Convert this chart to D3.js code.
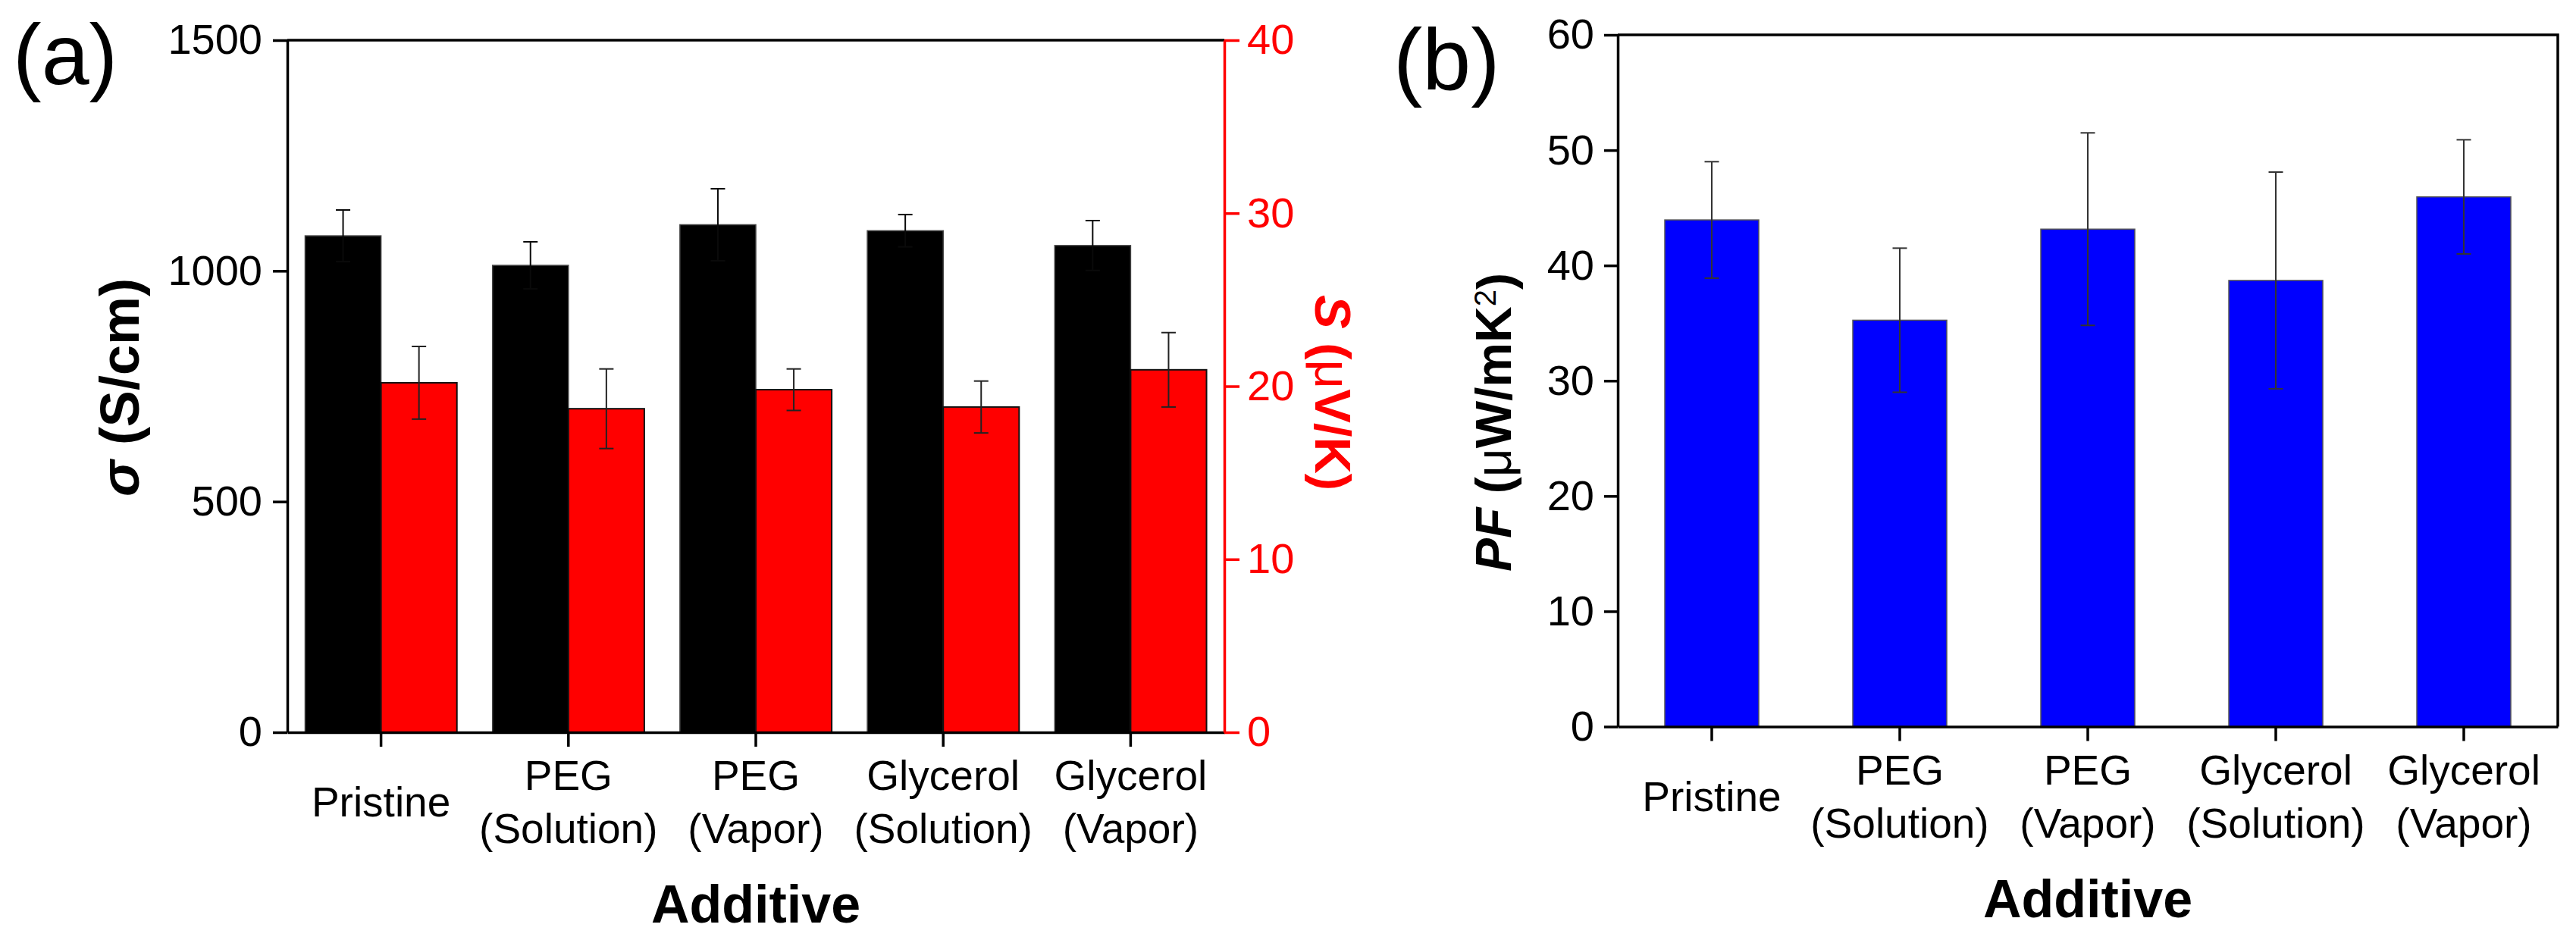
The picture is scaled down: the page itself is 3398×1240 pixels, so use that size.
<!DOCTYPE html>
<html>
<head>
<meta charset="utf-8">
<script src="https://cdn.jsdelivr.net/npm/d3@7"></script>
<style>
  body { margin: 0; background: #fff; }
  text { font-family: "Liberation Sans", Arial, sans-serif; }
</style>
</head>
<body>
<div id="target"></div>
<script>
// values
const categories = ["Pristine", "PEG (Solution)", "PEG (Vapor)", "Glycerol (Solution)", "Glycerol (Vapor)"];
const categoryLines = [["Pristine"], ["PEG", "(Solution)"], ["PEG", "(Vapor)"], ["Glycerol", "(Solution)"], ["Glycerol", "(Vapor)"]];
const sigma = [1076, 1012, 1100, 1087, 1055];
const sigmaErr = [56, 51, 78, 35, 54];
const seebeck = [20.2, 18.7, 19.8, 18.8, 20.95];
const seebeckErr = [2.1, 2.3, 1.2, 1.5, 2.15];
const pf = [43.95, 35.25, 43.15, 38.7, 45.95];
const pfErr = [5.05, 6.25, 8.35, 9.4, 4.95];
const sigmaTicks = [0, 500, 1000, 1500];
const seebeckTicks = [0, 10, 20, 30, 40];
const pfTicks = [0, 10, 20, 30, 40, 50, 60];

const width = 3398,
  height = 1240,
  tickFont = 56,
  axisWidth = 3.5;

let svg = d3.select("#target").append("svg")
  .attr("width", width)
  .attr("height", height);

function styleAxis(g, color) {
  g.attr("font-family", null).attr("font-size", null);
  g.select(".domain").attr("stroke", color).attr("stroke-width", axisWidth);
  g.selectAll(".tick line").attr("stroke", color).attr("stroke-width", axisWidth);
  g.selectAll(".tick text").attr("fill", color).style("font-size", tickFont + "px");
}

function categoryLabels(x, base) {
  categoryLines.forEach((lines, i) => {
    const cx = x(categories[i]) + x.bandwidth() / 2;
    const t = svg.append("text")
      .attr("text-anchor", "middle")
      .style("font-size", "55px");
    lines.forEach((line, j) => {
      t.append("tspan")
        .attr("x", cx)
        .attr("y", lines.length === 1 ? base + 111 : base + 76 + j * 70)
        .text(line);
    });
  });
}

function errorBars(data, err, xPos, y, color) {
  const g = svg.append("g")
    .attr("stroke", color)
    .attr("stroke-width", 2);
  data.forEach((v, i) => {
    const cx = xPos(i);
    g.append("line").attr("x1", cx).attr("x2", cx).attr("y1", y(v + err[i])).attr("y2", y(v - err[i]));
    g.append("line").attr("x1", cx - 9.5).attr("x2", cx + 9.5).attr("y1", y(v + err[i])).attr("y2", y(v + err[i]));
    g.append("line").attr("x1", cx - 9.5).attr("x2", cx + 9.5).attr("y1", y(v - err[i])).attr("y2", y(v - err[i]));
  });
}

function panelA() {
  const left = 379, right = 1615, top = 53, bottom = 966;
  let x = d3.scaleBand()
    .domain(categories)
    .range([left, right])
    .paddingInner(0.19)
    .paddingOuter(0.095);
  let sub = d3.scaleBand()
    .domain(["sigma", "S"])
    .range([0, x.bandwidth()]);
  let y = d3.scaleLinear().domain([0, 1500]).range([bottom, top]);
  let y2 = d3.scaleLinear().domain([0, 40]).range([bottom, top]);

  svg.append("g").selectAll("rect")
    .data(sigma)
    .enter().append("rect")
    .attr("x", (d, i) => x(categories[i]) + sub("sigma"))
    .attr("width", sub.bandwidth())
    .attr("y", (d) => y(d))
    .attr("height", (d) => bottom - y(d))
    .attr("fill", "#000")
    .attr("stroke", "#444")
    .attr("stroke-width", 1.5);
  svg.append("g").selectAll("rect")
    .data(seebeck)
    .enter().append("rect")
    .attr("x", (d, i) => x(categories[i]) + sub("S"))
    .attr("width", sub.bandwidth())
    .attr("y", (d) => y2(d))
    .attr("height", (d) => bottom - y2(d))
    .attr("fill", "#ff0000")
    .attr("stroke", "#111")
    .attr("stroke-width", 2);

  errorBars(sigma, sigmaErr, (i) => x(categories[i]) + sub("sigma") + sub.bandwidth() / 2, y, "#0a0a0a");
  errorBars(seebeck, seebeckErr, (i) => x(categories[i]) + sub("S") + sub.bandwidth() / 2, y2, "#222");

  svg.append("line")
    .attr("x1", left).attr("x2", right)
    .attr("y1", top).attr("y2", top)
    .attr("stroke", "#000").attr("stroke-width", axisWidth);

  svg.append("g")
    .attr("transform", `translate(0,${bottom})`)
    .call(d3.axisBottom(x).tickSize(19).tickSizeOuter(0).tickFormat(""))
    .call((g) => styleAxis(g, "#000"));
  svg.append("g")
    .attr("transform", `translate(${left},0)`)
    .call(d3.axisLeft(y).tickValues(sigmaTicks).tickFormat(d3.format("d")).tickSize(19).tickSizeOuter(0).tickPadding(14))
    .call((g) => styleAxis(g, "#000"));
  svg.append("g")
    .attr("transform", `translate(${right},0)`)
    .call(d3.axisRight(y2).tickValues(seebeckTicks).tickFormat(d3.format("d")).tickSize(20).tickSizeOuter(0).tickPadding(10))
    .call((g) => styleAxis(g, "#ff0000"));

  categoryLabels(x, bottom);

  svg.append("text")
    .attr("x", (left + right) / 2)
    .attr("y", bottom + 251)
    .attr("text-anchor", "middle")
    .style("font-size", "70px")
    .style("font-weight", "bold")
    .text("Additive");

  let yt = svg.append("text")
    .attr("transform", "translate(183,511) rotate(-90)")
    .attr("text-anchor", "middle")
    .style("font-size", "72px")
    .style("font-weight", "bold");
  yt.append("tspan").style("font-style", "italic").text("σ");
  yt.append("tspan").text(" (S/cm)");

  let st = svg.append("text")
    .attr("transform", "translate(1735,518) rotate(90)")
    .attr("text-anchor", "middle")
    .attr("fill", "#ff0000")
    .style("font-size", "67px")
    .style("font-weight", "bold");
  st.append("tspan").style("font-style", "italic").text("S");
  st.append("tspan").text(" (");
  st.append("tspan").style("font-weight", "normal").text("μ");
  st.append("tspan").text("V/K)");

  svg.append("text")
    .attr("x", 17)
    .attr("y", 111)
    .style("font-size", "113px")
    .text("(a)");
}

function panelB() {
  const left = 2134, right = 3374, top = 46, bottom = 958.5;
  let x = d3.scaleBand()
    .domain(categories)
    .range([left, right])
    .paddingInner(0.5)
    .paddingOuter(0.25);
  let y = d3.scaleLinear().domain([0, 60]).range([bottom, top]);

  svg.append("g").selectAll("rect")
    .data(pf)
    .enter().append("rect")
    .attr("x", (d, i) => x(categories[i]))
    .attr("width", x.bandwidth())
    .attr("y", (d) => y(d))
    .attr("height", (d) => bottom - y(d))
    .attr("fill", "#0000ff")
    .attr("stroke", "#555")
    .attr("stroke-width", 1.5);

  errorBars(pf, pfErr, (i) => x(categories[i]) + x.bandwidth() / 2, y, "#333");

  svg.append("path")
    .attr("d", `M${left},${top}H${right}V${bottom}`)
    .attr("fill", "none")
    .attr("stroke", "#000")
    .attr("stroke-width", axisWidth);

  svg.append("g")
    .attr("transform", `translate(0,${bottom})`)
    .call(d3.axisBottom(x).tickSize(19).tickSizeOuter(0).tickFormat(""))
    .call((g) => styleAxis(g, "#000"));
  svg.append("g")
    .attr("transform", `translate(${left},0)`)
    .call(d3.axisLeft(y).tickValues(pfTicks).tickFormat(d3.format("d")).tickSize(18).tickSizeOuter(0).tickPadding(13))
    .call((g) => styleAxis(g, "#000"));

  categoryLabels(x, bottom);

  svg.append("text")
    .attr("x", (left + right) / 2)
    .attr("y", bottom + 251)
    .attr("text-anchor", "middle")
    .style("font-size", "70px")
    .style("font-weight", "bold")
    .text("Additive");

  let yt = svg.append("text")
    .attr("transform", "translate(1993,557) rotate(-90)")
    .attr("text-anchor", "middle")
    .style("font-size", "66px")
    .style("font-weight", "bold");
  yt.append("tspan").style("font-style", "italic").text("PF");
  yt.append("tspan").text(" (");
  yt.append("tspan").style("font-weight", "normal").text("μ");
  yt.append("tspan").text("W/mK");
  yt.append("tspan").attr("dy", "-0.5em").style("font-size", "40px").style("font-weight", "normal").text("2");
  yt.append("tspan").attr("dy", "0.33em").text(")");

  svg.append("text")
    .attr("x", 1838)
    .attr("y", 118)
    .style("font-size", "115px")
    .text("(b)");
}

panelA();
panelB();
</script>
</body>
</html>
